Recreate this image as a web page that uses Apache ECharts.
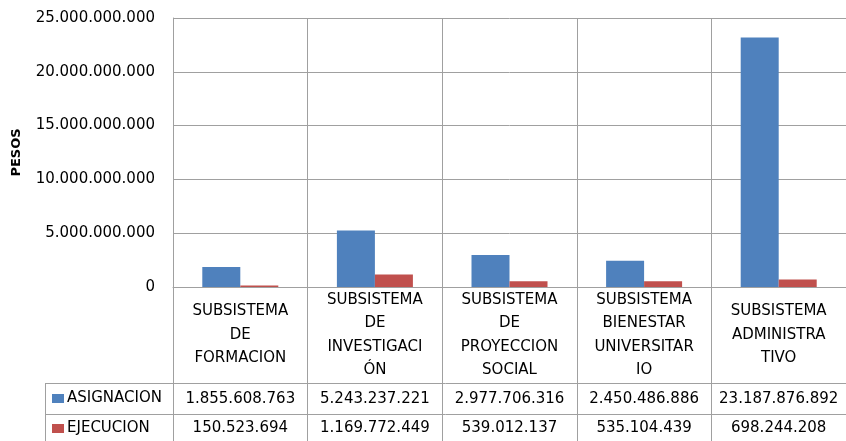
<!DOCTYPE html>
<html><head><meta charset="utf-8">
<script src="https://cdn.jsdelivr.net/npm/echarts@6/dist/echarts.min.js"></script>
<style>html,body{margin:0;padding:0;background:#fff}#c{width:846px;height:441px}</style>
</head><body><div id="c"></div>
<script>
var categories = ['SUBSISTEMA\nDE\nFORMACION','SUBSISTEMA\nDE\nINVESTIGACI\nÓN','SUBSISTEMA\nDE\nPROYECCION\nSOCIAL','SUBSISTEMA\nBIENESTAR\nUNIVERSITAR\nIO','SUBSISTEMA\nADMINISTRA\nTIVO'];
var seriesNames = ['ASIGNACION','EJECUCION'];
var asignacion = [1855608763, 5243237221, 2977706316, 2450486886, 23187876892];
var ejecucion = [150523694, 1169772449, 539012137, 535104439, 698244208];
var yTicks = {min: 0, max: 25000000000, interval: 5000000000};

function fmt(v){ var s = String(Math.round(v)); return s.replace(/\B(?=(\d{3})+(?!\d))/g, '.'); }
var FONT = 'DejaVu Sans';
var FS = 15;
var LINE = '#a0a0a0';
var chart = echarts.init(document.getElementById('c'), null, {renderer:'canvas'});
var gridLeft = 173, gridTop = 18, gridBottom = 154;
chart.setOption({
  animation:false,
  textStyle:{fontFamily:FONT},
  grid:{left:gridLeft, right:0, top:gridTop, bottom:gridBottom, containLabel:false},
  legend:{orient:'vertical', left:52, top:391, padding:0, height:60, itemWidth:12, itemHeight:9, itemGap:15,
    icon:'rect', data:seriesNames,
    textStyle:{fontFamily:FONT, fontSize:FS, color:'#000', padding:[0,0,0,-2]}},
  xAxis:{type:'category', data:categories,
    axisLine:{show:true, lineStyle:{color:LINE, width:1}},
    axisTick:{show:true, length:154, lineStyle:{color:LINE}},
    splitLine:{show:true, lineStyle:{color:LINE}},
    axisLabel:{fontFamily:FONT, fontSize:FS, color:'#000', lineHeight:23.5, verticalAlign:'middle', margin:48, interval:0, align:'center'}},
  yAxis:{type:'value', min:yTicks.min, max:yTicks.max, interval:yTicks.interval,
    name:'PESOS', nameLocation:'middle', nameRotate:90, nameGap:150,
    nameTextStyle:{fontFamily:FONT, fontSize:13, fontWeight:'bold', color:'#000'},
    axisLine:{show:true, lineStyle:{color:LINE}},
    axisTick:{show:false},
    splitLine:{show:true, lineStyle:{color:LINE}},
    axisLabel:{fontFamily:FONT, fontSize:FS, color:'#000', margin:18, formatter:function(v){return fmt(v);}}},
  series:[
    {name:seriesNames[0], type:'bar', data:asignacion, barWidth:38, barGap:'0%', itemStyle:{color:'#4F81BD'}},
    {name:seriesNames[1], type:'bar', data:ejecucion, barWidth:38, itemStyle:{color:'#C0504D'}}
  ]
});
var g = [];
var row1 = 383, row2 = 414, bottom = 441;
g.push({type:'line', shape:{x1:45, y1:row1+0.5, x2:846, y2:row1+0.5}, style:{stroke:LINE, lineWidth:1}});
g.push({type:'line', shape:{x1:45, y1:row2+0.5, x2:846, y2:row2+0.5}, style:{stroke:LINE, lineWidth:1}});
g.push({type:'line', shape:{x1:45.5, y1:row1, x2:45.5, y2:bottom}, style:{stroke:LINE, lineWidth:1}});
var rows = [asignacion, ejecucion];
var rowCenters = [399, 428];
for (var i = 0; i < categories.length; i++) {
  var x = chart.convertToPixel({xAxisIndex:0}, i);
  for (var r = 0; r < rows.length; r++) {
    g.push({type:'text', x:x, y:rowCenters[r], style:{text:fmt(rows[r][i]), font:FS+'px "'+FONT+'"', fill:'#000', align:'center', verticalAlign:'middle'}});
  }
}
chart.setOption({graphic:g});
</script></body></html>
